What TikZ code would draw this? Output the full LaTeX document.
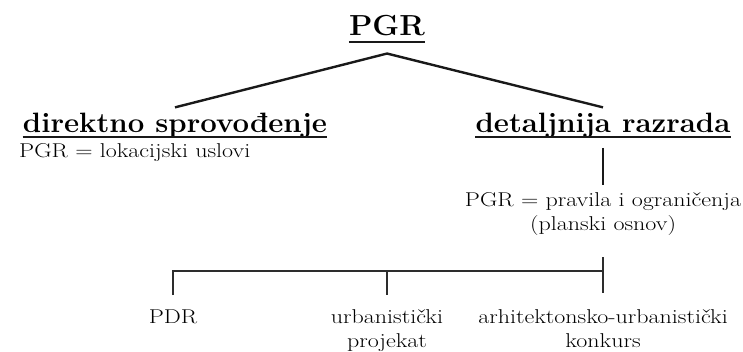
\documentclass[tikz,border=0pt]{standalone}
\usepackage{fontspec}
\setmainfont{Latin Modern Roman}
\newfontfamily\headfont{Latin Modern Roman}[FakeStretch=1.05]
\newfontfamily\bodyfont{Latin Modern Roman}[FakeStretch=1.2]
\usetikzlibrary{positioning,calc}
\definecolor{ink}{RGB}{25,25,25}
\definecolor{bus}{RGB}{45,45,45}

\begin{document}
\begin{tikzpicture}[x=1pt,y=-1pt,
    every node/.style={inner sep=0pt,anchor=base,text=black},
    head/.style={font=\headfont\fontsize{28}{32}\selectfont\bfseries},
    plain/.style={font=\bodyfont\fontsize{20}{24}\selectfont},
    branch/.style={ink,line width=2.4pt},
    fork/.style={bus,line width=1.8pt}]
  \useasboundingbox (0,0) rectangle (743,351);
  % top level
  \node[font=\headfont\fontsize{29}{34}\selectfont\bfseries] (pgr) at (387,35) {PGR};
  \draw[ink,line width=2.4pt] ([yshift=-7pt]pgr.base west) -- ([yshift=-7pt]pgr.base east);
  \node[head] (dir) at (175,132) {direktno sprovođenje};
  \node[head] (det) at (603,132) {detaljnija razrada};
  \foreach \n in {dir,det}
    \draw[ink,line width=1.6pt] ([yshift=-5pt]\n.base west) -- ([yshift=-5pt]\n.base east);
  \draw[branch] ([yshift=5pt]dir.north) -- ([yshift=-18pt]pgr.south) -- ([yshift=5pt]det.north);
  \node[plain,anchor=base west] (lok) at (19,157) {PGR = lokacijski uslovi};
  % detaljnija razrada
  \node[plain,align=center] (prav) at (603,230) {PGR = pravila i ograničenja\\(planski osnov)};
  \draw[branch,line width=2pt,shorten <=10pt,shorten >=7pt] (det.south) -- (prav.north);
  \node[plain] (pdr) at (173,323) {PDR};
  \node[plain,align=center] (urb) at (387,347) {urbanistički\\projekat};
  \node[plain,align=center] (arh) at (603,347) {arhitektonsko-urbanistički\\konkurs};
  \coordinate (split) at (603,271);
  \draw[fork,shorten <=22pt,shorten >=16pt] (prav.south) -- (arh.north);
  \draw[fork,shorten <=14pt] (pdr.north) |- (split);
  \draw[fork,shorten <=14pt] (urb.north) -- (urb.north |- split);
\end{tikzpicture}
\end{document}
